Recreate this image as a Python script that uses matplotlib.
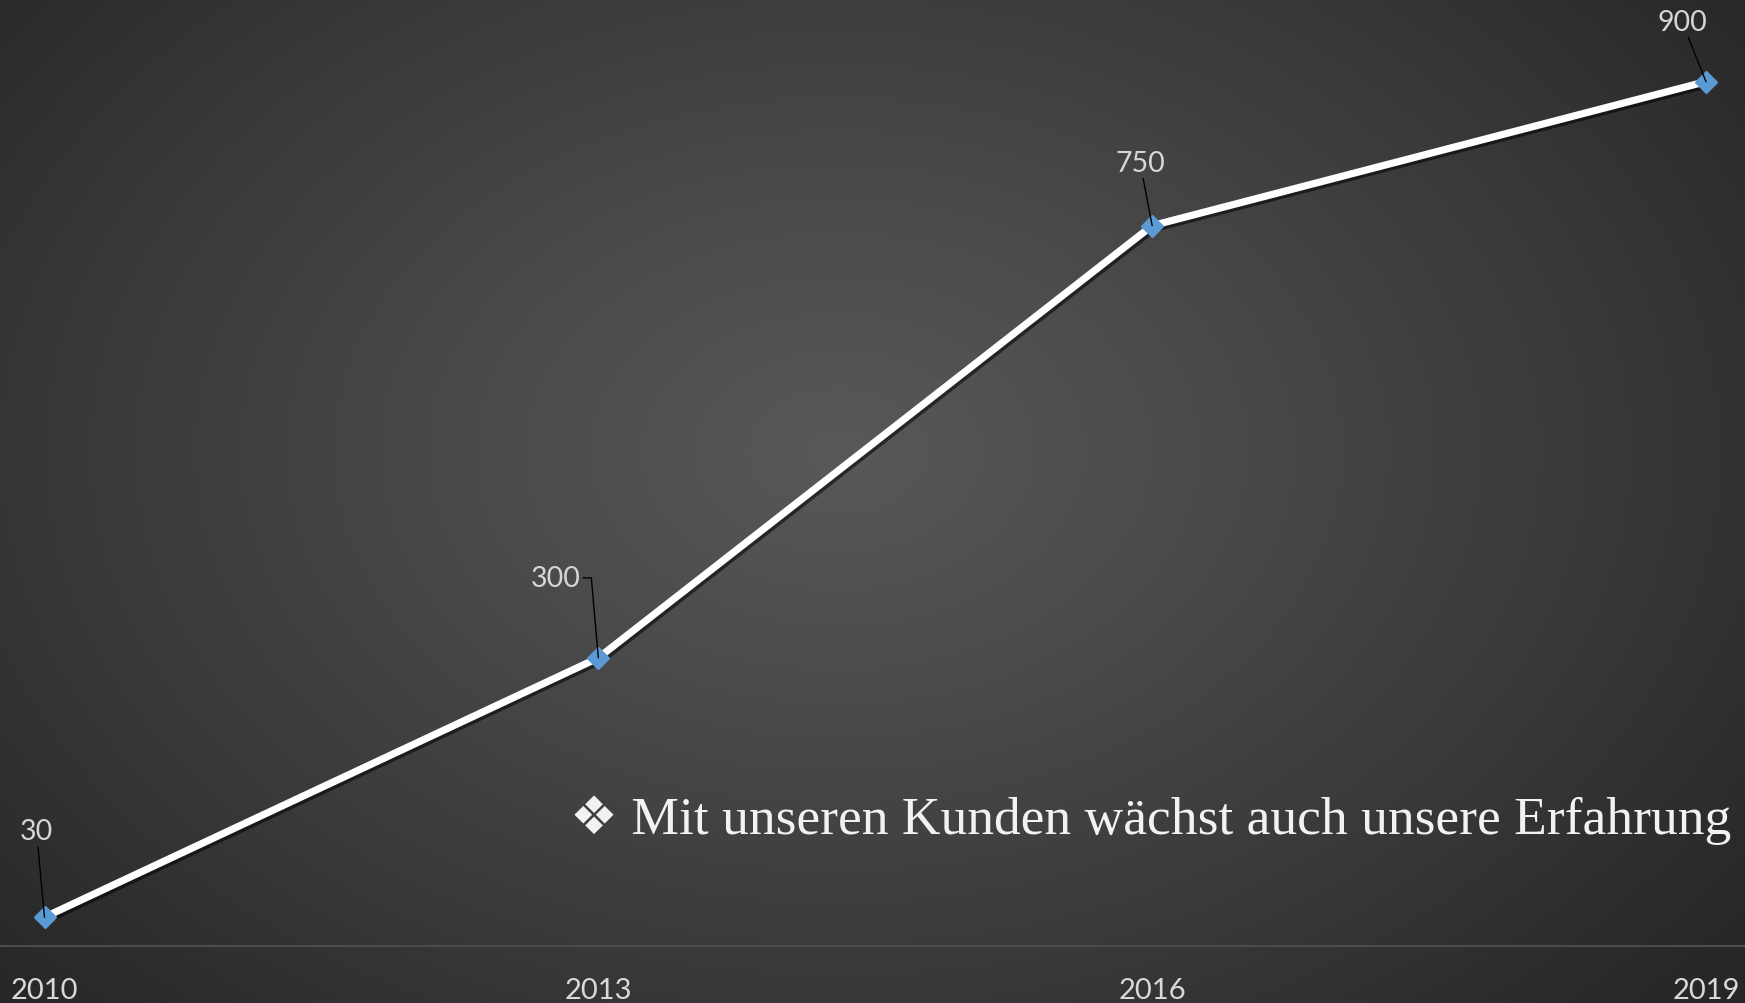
import numpy as np
import matplotlib
matplotlib.use("Agg")
import matplotlib.pyplot as plt
import matplotlib.patheffects as pe

years = ["2010", "2013", "2016", "2019"]
values = [30, 300, 750, 900]
caption = "\u2756 Mit unseren Kunden wächst auch unsere Erfahrung"

W, H, DPI = 1745, 1004, 100
fig = plt.figure(figsize=(W / DPI, H / DPI), dpi=DPI)

# radial gradient background
bg = fig.add_axes([0, 0, 1, 1], zorder=-10)
yy, xx = np.mgrid[0:H, 0:W]
cx, cy = 0.48 * W, 0.45 * H
r = np.sqrt(((xx - cx) / (0.64 * W)) ** 2 + ((yy - cy) / (0.78 * H)) ** 2)
r = np.clip(r, 0, 1)
c0, c1 = 88 / 255, 40 / 255
img = c0 + (c1 - c0) * r ** 1.1
bg.imshow(np.dstack([img, img, img]), aspect="auto", extent=[0, 1, 0, 1], origin="upper")
bg.axis("off")

ax = fig.add_axes([0, (H - 947) / H, 1, 947 / H])
ax.set_facecolor("none")
x = np.arange(len(years))
ax.plot(x, values, color="white", lw=5.2, solid_joinstyle="miter", zorder=3,
        path_effects=[pe.SimpleLineShadow(offset=(1.5, -2), shadow_color="black", alpha=0.55),
                      pe.Normal()])
ax.plot(x, values, ls="none", marker="D", ms=11, color="#5b9bd5", mec="#5b9bd5", zorder=4)

ax.set_xlim(-44.5 / 553.8, 3 + (W - 1706) / 553.8)
ax.set_ylim(0, 986)
ax.set_xticks(x)
ax.set_xticklabels(years, fontsize=21, color="#d9d9d9", family="Lato")
ax.tick_params(axis="x", length=0, pad=22)
ax.set_yticks([])
for s in ["top", "left", "right"]:
    ax.spines[s].set_visible(False)
ax.spines["bottom"].set_color("#4c4c4c")
ax.spines["bottom"].set_linewidth(1.5)

offsets = [(-8, 86), (-43, 80), (-12, 63), (-24, 60)]
for i, (v, off) in enumerate(zip(values, offsets)):
    if i == 1:
        arr = dict(arrowstyle="-", color="black", lw=1, relpos=(1, 0.5),
                   connectionstyle="angle,angleA=0,angleB=95,rad=0", shrinkA=0, shrinkB=0)
    else:
        arr = dict(arrowstyle="-", color="black", lw=1, shrinkA=0, shrinkB=0)
    ax.annotate(str(v), xy=(i, v), xytext=off, textcoords="offset pixels",
                ha="center", va="center", fontsize=20.5, color="#d6d6d6", family="Lato",
                arrowprops=arr, zorder=5)

fig.text(1731 / W, 1 - 820 / H, caption, ha="right", va="center", fontsize=38.5,
         color="#f2f2f2", family=["Liberation Serif", "DejaVu Sans"])

fig.savefig("out.png", dpi=DPI)
